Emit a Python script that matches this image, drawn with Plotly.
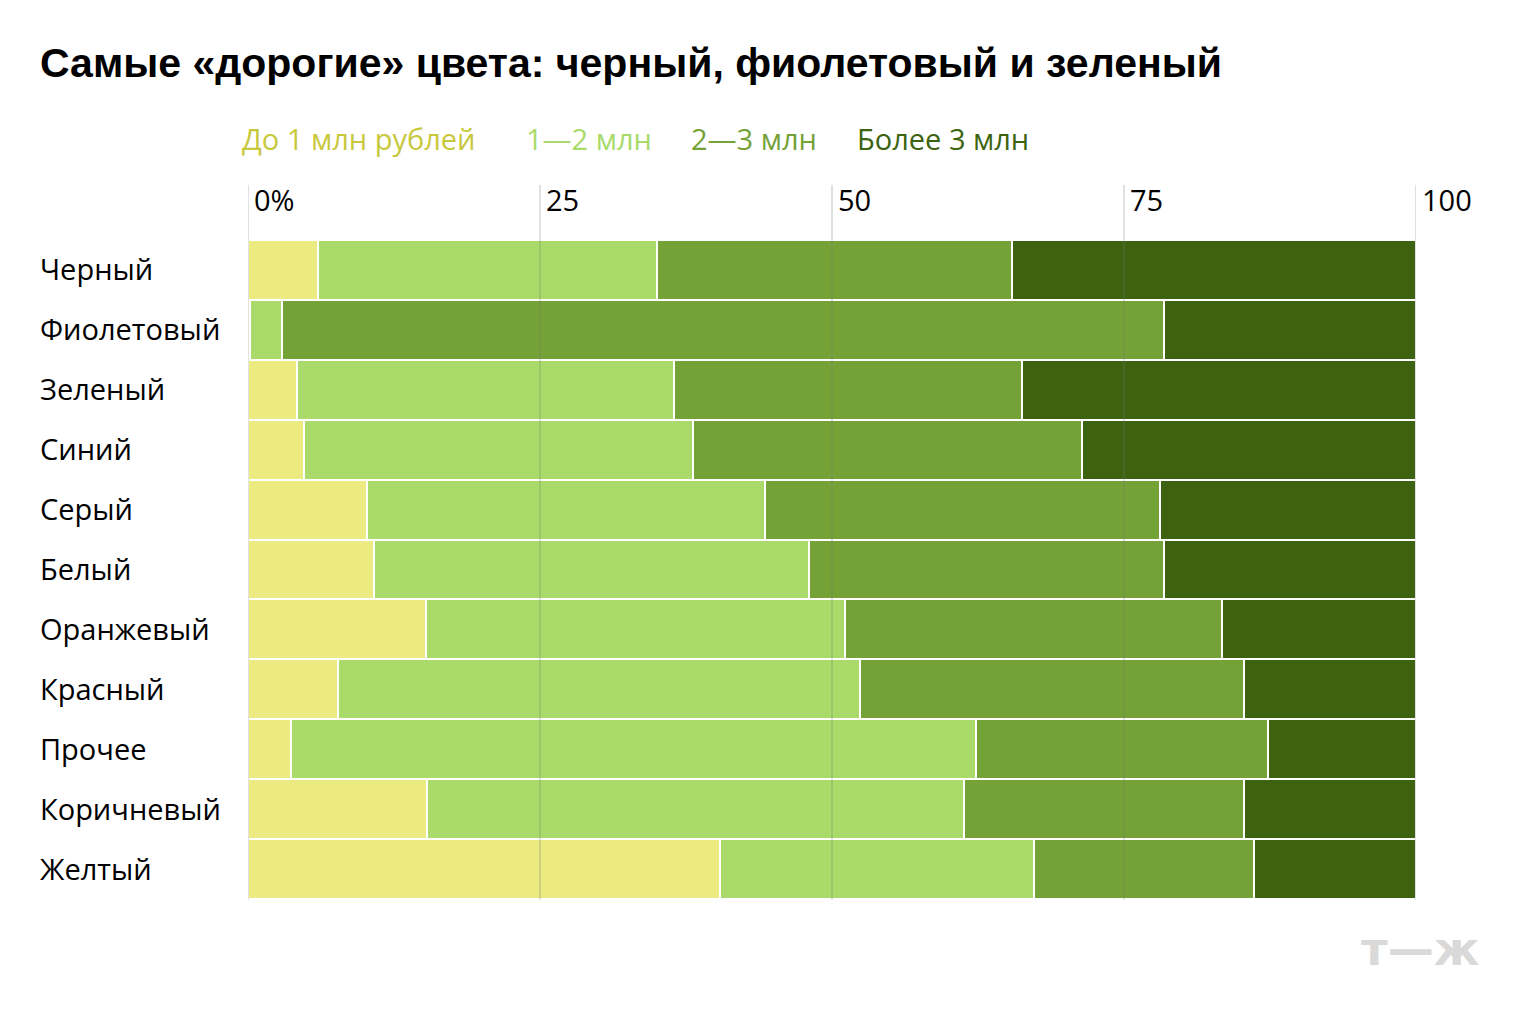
import plotly.graph_objects as go

categories = ["Черный", "Фиолетовый", "Зеленый", "Синий", "Серый", "Белый",
              "Оранжевый", "Красный", "Прочее", "Коричневый", "Желтый"]
series_names = ["До 1 млн рублей", "1—2 млн", "2—3 млн", "Более 3 млн"]
upto1 = [6.0, 0.2, 4.2, 4.8, 10.2, 10.8, 15.2, 7.7, 3.7, 15.3, 40.4]
m1_2 = [29.0, 2.7, 32.3, 33.3, 34.1, 37.2, 35.9, 44.7, 58.6, 46.0, 26.9]
m2_3 = [30.4, 75.5, 29.8, 33.3, 33.8, 30.4, 32.3, 32.9, 25.0, 24.0, 18.8]
over3 = [34.6, 21.6, 33.7, 28.6, 21.9, 21.6, 16.6, 14.7, 12.7, 14.7, 13.9]
tick_vals = [0, 25, 50, 75, 100]
tick_text = ["0%", "25", "50", "75", "100"]

bar_colors = ["#ECEB82", "#AADA6A", "#74A236", "#3D6310"]
legend_colors = ["#C8C83C", "#A8DA6A", "#74A236", "#3D6310"]

FONT = "Open Sans"
TITLE_FONT = "Liberation Sans"
W, H = 1520, 1020
ML, MR, MT, MB = 248, 104, 240, 121
PW = W - ML - MR
PH = H - MT - MB

fig = go.Figure()
for name, vals, col in zip(series_names, [upto1, m1_2, m2_3, over3], bar_colors):
    fig.add_trace(go.Bar(
        y=categories, x=vals, name=name, orientation="h",
        marker=dict(color=col, line=dict(color="white", width=2)),
        showlegend=False, hoverinfo="x+y+name",
    ))

fig.update_layout(
    width=W, height=H,
    margin=dict(l=ML, r=MR, t=MT, b=MB),
    paper_bgcolor="white", plot_bgcolor="white",
    barmode="stack", bargap=0,
    font=dict(family=FONT, color="#000000"),
    xaxis=dict(range=[0, 100], showgrid=False, zeroline=False,
               showticklabels=False, showline=False, fixedrange=True),
    yaxis=dict(range=[len(categories) - 0.5, -0.5], showgrid=False,
               zeroline=False, showticklabels=False, showline=False,
               fixedrange=True),
)

def px_x(px):
    return (px - ML) / PW

def px_y(py):
    return 1 - (py - MT) / PH

# gridlines above bars
for v in tick_vals:
    fig.add_shape(type="line", xref="x", yref="paper", x0=v, x1=v,
                  y0=px_y(900), y1=px_y(185), layer="above",
                  line=dict(color="rgba(120,120,120,0.22)", width=2))

annotations = []
# tick labels
for v, t in zip(tick_vals, tick_text):
    annotations.append(dict(x=v, y=px_y(199), xref="x", yref="paper",
                            text=t, showarrow=False, xanchor="left",
                            yanchor="middle", xshift=4,
                            font=dict(size=29, family=FONT, color="#000")))
# category labels
for c in categories:
    annotations.append(dict(x=px_x(38), y=c, xref="paper", yref="y",
                            text=c, showarrow=False, xanchor="left",
                            yanchor="middle", yshift=1,
                            font=dict(size=29, family=FONT, color="#000")))
# legend
leg_x = [240, 524, 689, 855]
for name, col, lx in zip(series_names, legend_colors, leg_x):
    annotations.append(dict(x=px_x(lx), y=px_y(139), xref="paper", yref="paper",
                            text=name, showarrow=False, xanchor="left",
                            yanchor="middle",
                            font=dict(size=29, family=FONT, color=col)))
# title
annotations.append(dict(x=px_x(38), y=px_y(63), xref="paper", yref="paper",
                        text="<b>Самые «дорогие» цвета: черный, фиолетовый и зеленый</b>",
                        showarrow=False, xanchor="left", yanchor="middle",
                        font=dict(size=41, family=TITLE_FONT, color="#000")))
# logo
annotations.append(dict(x=px_x(1482), y=px_y(949), xref="paper", yref="paper",
                        text="<b>т—ж</b>", showarrow=False, xanchor="right",
                        yanchor="middle",
                        font=dict(size=46, family="DejaVu Sans", color="#D9D9D9")))
fig.update_layout(annotations=annotations)

fig.write_html("out.html")
